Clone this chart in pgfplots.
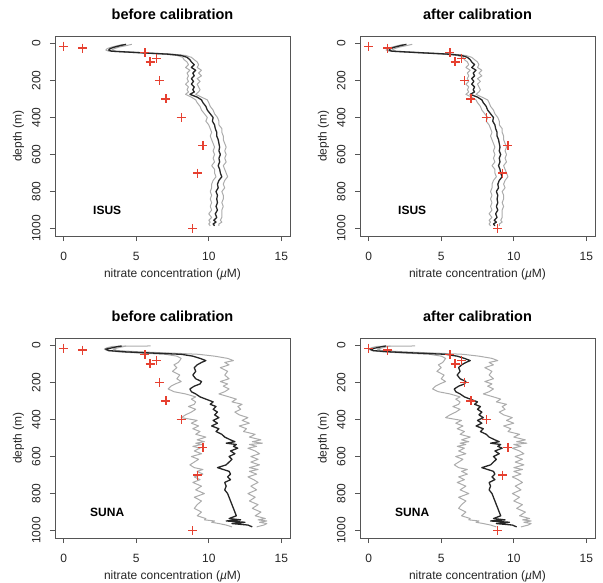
\documentclass[border=0pt]{standalone}
\usepackage{fontspec}
\setmainfont{Liberation Sans}
\usepackage{pgfplots}
\pgfplotsset{compat=1.18}
\usepackage{pgfplotstable}

\definecolor{bottlered}{RGB}{230,64,48}
\definecolor{envgray}{RGB}{172,172,172}
\definecolor{framegray}{RGB}{85,85,85}

% bottle samples (same in every panel)
\pgfplotstableread{
x depth
0.0 15
1.3 25
5.6 50
6.4 80
5.95 100
6.6 200
7.05 300
8.1 400
9.6 550
9.25 700
8.9 1000
}\bottle

% ISUS, before calibration: depth, mean, low and high profiles
\pgfplotstableread{
depth m lo hi
5 4.3 4.1 4.7
12 3.9 3.7 4.3
20 3.5 3.3 3.8
28 3.2 3.0 3.5
36 3.1 2.9 3.3
42 3.3 3.1 3.6
50 5.2 4.9 5.5
58 7.2 6.9 7.5
65 8.1 7.8 8.4
75 8.5 8.2 8.8
88 8.7 8.3 9.0
100 8.8 8.5 9.2
115 9.0 8.6 9.3
130 8.8 8.4 9.2
145 9.1 8.7 9.5
160 8.9 8.5 9.3
175 9.0 8.6 9.5
190 8.8 8.5 9.2
205 8.95 8.6 9.4
220 8.8 8.4 9.2
235 9.0 8.6 9.3
250 8.9 8.5 9.4
262 9.0 8.6 9.3
275 8.7 8.4 9.1
290 9.2 8.8 9.5
305 9.5 9.1 9.9
320 9.6 9.2 10.0
340 9.8 9.4 10.1
360 9.9 9.5 10.3
380 10.1 9.7 10.4
400 10.3 9.9 10.6
420 10.25 9.8 10.7
440 10.4 10.0 10.7
460 10.45 10.1 10.9
480 10.55 10.2 10.9
500 10.55 10.1 11.0
520 10.65 10.2 11.0
540 10.7 10.3 11.1
560 10.75 10.4 11.2
580 10.7 10.3 11.1
600 10.8 10.4 11.2
620 10.7 10.3 11.1
640 10.75 10.4 11.2
660 10.65 10.2 11.0
680 10.75 10.4 11.1
700 10.8 10.4 11.2
720 10.9 10.5 11.3
740 10.7 10.3 11.1
760 10.6 10.2 11.0
780 10.65 10.2 11.1
800 10.5 10.1 10.9
820 10.6 10.2 11.0
840 10.55 10.1 11.0
860 10.6 10.2 10.9
880 10.5 10.1 11.0
900 10.6 10.2 10.9
920 10.45 10.0 10.9
940 10.55 10.2 10.9
955 10.35 10.0 10.8
965 10.5 10.1 10.9
975 10.3 10.0 10.7
985 10.4 10.1 10.7
}\isusbefore

% ISUS, after calibration
\pgfplotstableread{
depth m lo hi
5 2.6 2.4 3.0
12 2.2 2.0 2.6
20 1.8 1.6 2.1
28 1.5 1.3 1.8
36 1.4 1.2 1.6
42 1.6 1.4 1.9
50 3.5 3.2 3.8
58 5.5 5.2 5.8
65 6.4 6.1 6.7
75 6.8 6.5 7.1
88 7.0 6.6 7.3
100 7.1 6.8 7.5
115 7.3 6.9 7.6
130 7.1 6.7 7.5
145 7.4 7.0 7.8
160 7.2 6.8 7.6
175 7.3 6.9 7.8
190 7.1 6.8 7.5
205 7.25 6.9 7.7
220 7.1 6.7 7.5
235 7.3 6.9 7.6
250 7.2 6.8 7.7
262 7.3 6.9 7.6
275 7.0 6.7 7.4
290 7.5 7.1 7.8
305 7.8 7.4 8.2
320 7.9 7.5 8.3
340 8.1 7.7 8.4
360 8.2 7.8 8.6
380 8.4 8.0 8.7
400 8.6 8.2 8.9
420 8.55 8.1 9.0
440 8.7 8.3 9.0
460 8.75 8.4 9.2
480 8.85 8.5 9.2
500 8.85 8.4 9.3
520 8.95 8.5 9.3
540 9.0 8.6 9.4
560 9.05 8.7 9.5
580 9.0 8.6 9.4
600 9.1 8.7 9.5
620 9.0 8.6 9.4
640 9.05 8.7 9.5
660 8.95 8.5 9.3
680 9.05 8.7 9.4
700 9.1 8.7 9.5
720 9.2 8.8 9.6
740 9.0 8.6 9.4
760 8.9 8.5 9.3
780 8.95 8.5 9.4
800 8.8 8.4 9.2
820 8.9 8.5 9.3
840 8.85 8.4 9.3
860 8.9 8.5 9.2
880 8.8 8.4 9.3
900 8.9 8.5 9.2
920 8.75 8.3 9.2
940 8.85 8.5 9.2
955 8.65 8.3 9.1
965 8.8 8.4 9.2
975 8.6 8.3 9.0
985 8.7 8.4 9.0
}\isusafter

% SUNA, before calibration
\pgfplotstableread{
depth m lo hi
3 4.0 6.0 4.3
5 3.8 3.4 4.2
12 3.4 3.0 3.8
20 2.9 2.8 3.4
28 3.1 3.0 3.7
35 4.3 3.8 5.3
42 6.3 5.4 7.6
48 8.1 7.0 9.3
58 8.9 7.8 10.4
70 9.4 8.1 11.3
82 9.8 8.0 11.7
92 9.5 7.9 11.1
105 9.2 7.6 11.4
120 9.0 7.8 10.8
140 9.1 7.5 11.3
160 8.9 8.0 11.1
180 9.1 7.8 11.4
195 9.5 8.1 10.8
208 9.4 7.7 11.3
220 9.0 7.4 11.0
235 8.7 7.2 11.4
250 8.8 7.6 11.1
262 9.1 8.4 10.7
278 9.4 9.1 11.4
290 9.8 8.8 11.9
305 10.3 9.1 11.6
318 10.1 9.0 12.3
330 10.5 8.6 12.0
345 10.3 9.1 12.2
360 10.6 8.8 11.8
375 10.4 8.4 12.1
390 10.7 8.1 12.7
405 10.3 9.2 12.3
420 10.6 8.8 12.8
435 10.2 9.3 12.1
450 10.7 8.9 12.6
465 10.5 9.4 12.4
480 10.9 9.1 13.2
495 11.1 9.8 12.8
510 11.5 9.2 13.6
520 11.8 9.7 13.0
528 11.2 9.1 13.7
535 11.9 9.5 12.8
545 11.7 8.9 13.3
555 12.0 9.4 12.7
570 11.5 9.0 13.2
585 11.8 9.5 13.5
600 11.4 8.8 12.9
615 11.6 9.3 13.4
630 11.4 9.0 12.9
645 11.2 8.7 13.5
660 10.6 9.0 12.8
670 11.0 9.6 13.4
680 11.4 9.2 12.8
695 11.5 9.6 13.3
710 11.3 9.0 12.7
725 11.5 9.4 13.1
740 11.1 8.9 13.4
760 11.2 9.5 12.9
780 11.1 9.1 13.3
800 11.3 9.7 12.7
820 11.4 9.0 13.2
840 11.5 9.5 12.8
860 11.6 9.2 13.4
880 11.7 9.0 13.0
900 11.8 9.5 13.6
920 11.9 9.2 13.2
935 11.4 9.8 13.9
942 12.2 9.7 13.4
948 11.2 10.4 14.0
955 12.5 10.2 13.5
962 11.6 10.7 14.0
970 12.7 11.2 13.8
980 13.0 11.6 13.3
}\sunabefore

% SUNA, after calibration
\pgfplotstableread{
depth m lo hi
3 1.2 3.2 1.5
5 1.0 0.6 1.4
12 0.6 0.2 1.0
20 0.1 0.0 0.6
28 0.3 0.2 0.9
35 1.5 1.0 2.5
42 3.5 2.6 4.8
48 5.3 4.2 6.5
58 6.1 5.0 7.6
70 6.6 5.3 8.5
82 7.0 5.2 8.9
92 6.7 5.1 8.3
105 6.4 4.8 8.6
120 6.2 5.0 8.0
140 6.3 4.7 8.5
160 6.1 5.2 8.3
180 6.3 5.0 8.6
195 6.7 5.3 8.0
208 6.6 4.9 8.5
220 6.2 4.6 8.2
235 5.9 4.4 8.6
250 6.0 4.8 8.3
262 6.3 5.6 7.9
278 6.6 6.3 8.6
290 7.0 6.0 9.1
305 7.5 6.3 8.8
318 7.3 6.2 9.5
330 7.7 5.8 9.2
345 7.5 6.3 9.4
360 7.8 6.0 9.0
375 7.6 5.6 9.3
390 7.9 5.3 9.9
405 7.5 6.4 9.5
420 7.8 6.0 10.0
435 7.4 6.5 9.3
450 7.9 6.1 9.8
465 7.7 6.6 9.6
480 8.1 6.3 10.4
495 8.3 7.0 10.0
510 8.7 6.4 10.8
520 9.0 6.9 10.2
528 8.4 6.3 10.9
535 9.1 6.7 10.0
545 8.9 6.1 10.5
555 9.2 6.6 9.9
570 8.7 6.2 10.4
585 9.0 6.7 10.7
600 8.6 6.0 10.1
615 8.8 6.5 10.6
630 8.6 6.2 10.1
645 8.4 5.9 10.7
660 7.8 6.2 10.0
670 8.2 6.8 10.6
680 8.6 6.4 10.0
695 8.7 6.8 10.5
710 8.5 6.2 9.9
725 8.7 6.6 10.3
740 8.3 6.1 10.6
760 8.4 6.7 10.1
780 8.3 6.3 10.5
800 8.5 6.9 9.9
820 8.6 6.2 10.4
840 8.7 6.7 10.0
860 8.8 6.4 10.6
880 8.9 6.2 10.2
900 9.0 6.7 10.8
920 9.1 6.4 10.4
935 8.6 7.0 11.1
942 9.4 6.9 10.6
948 8.4 7.6 11.2
955 9.7 7.4 10.7
962 8.8 7.9 11.2
970 9.9 8.4 11.0
980 10.2 8.8 10.5
}\sunaafter

\pgfplotsset{
  profile/.style={
    scale only axis, width=235pt, height=200pt,
    xmin=-0.6, xmax=15.6, ymin=-40, ymax=1040, y dir=reverse,
    xtick={0,5,10,15}, ytick={0,200,...,1000},
    tick align=outside, tick pos=left, major tick length=5pt,
    axis line style={framegray, line width=0.9pt},
    every tick/.style={framegray, line width=0.8pt},
    /pgf/number format/assume math mode=true,
    /pgf/number format/1000 sep={},
    tick label style={font=\fontsize{12}{14}\selectfont, text=black!85},
    xticklabel shift=8pt,
    yticklabel shift=6pt,
    yticklabel style={rotate=90, anchor=south},
    xlabel={nitrate concentration ({\itshape µ}M)},
    ylabel={depth (m)},
    label style={font=\fontsize{12}{14}\selectfont, text=black!85},
    xlabel style={at={(axis description cs:0.5,-0.19)}, anchor=center},
    ylabel style={at={(axis description cs:-0.155,0.5)}, anchor=center},
    title style={font=\bfseries\fontsize{14.5}{16}\selectfont,
      at={(axis description cs:0.5,1.08)}, anchor=center},
  },
  envline/.style={envgray, line width=1pt, line join=round},
  meanline/.style={black!85, line width=1.3pt, line join=round},
  bottles/.style={only marks, mark=+, mark size=4.5pt, bottlered,
    mark options={line width=1.2pt}},
}

\begin{document}
\begin{tikzpicture}
\path[use as bounding box] (0,0) rectangle (603pt,-583pt);

\begin{axis}[profile, at={(55pt,-236pt)}, anchor=south west, title={before calibration}]
\addplot[envline] table[x=lo, y=depth] {\isusbefore};
\addplot[envline] table[x=hi, y=depth] {\isusbefore};
\addplot[meanline] table[x=m, y=depth] {\isusbefore};
\addplot[bottles] table[x=x, y=depth] {\bottle};
\node[font=\bfseries\fontsize{12}{14}\selectfont] at (axis cs:3,900) {ISUS};
\end{axis}

\begin{axis}[profile, at={(360pt,-236pt)}, anchor=south west, title={after calibration}]
\addplot[envline] table[x=lo, y=depth] {\isusafter};
\addplot[envline] table[x=hi, y=depth] {\isusafter};
\addplot[meanline] table[x=m, y=depth] {\isusafter};
\addplot[bottles] table[x=x, y=depth] {\bottle};
\node[font=\bfseries\fontsize{12}{14}\selectfont] at (axis cs:3,900) {ISUS};
\end{axis}

\begin{axis}[profile, at={(55pt,-538pt)}, anchor=south west, title={before calibration}]
\addplot[envline] table[x=lo, y=depth] {\sunabefore};
\addplot[envline] table[x=hi, y=depth] {\sunabefore};
\addplot[meanline] table[x=m, y=depth] {\sunabefore};
\addplot[bottles] table[x=x, y=depth] {\bottle};
\node[font=\bfseries\fontsize{12}{14}\selectfont] at (axis cs:3,900) {SUNA};
\end{axis}

\begin{axis}[profile, at={(360pt,-538pt)}, anchor=south west, title={after calibration}]
\addplot[envline] table[x=lo, y=depth] {\sunaafter};
\addplot[envline] table[x=hi, y=depth] {\sunaafter};
\addplot[meanline] table[x=m, y=depth] {\sunaafter};
\addplot[bottles] table[x=x, y=depth] {\bottle};
\node[font=\bfseries\fontsize{12}{14}\selectfont] at (axis cs:3,900) {SUNA};
\end{axis}
\end{tikzpicture}
\end{document}
